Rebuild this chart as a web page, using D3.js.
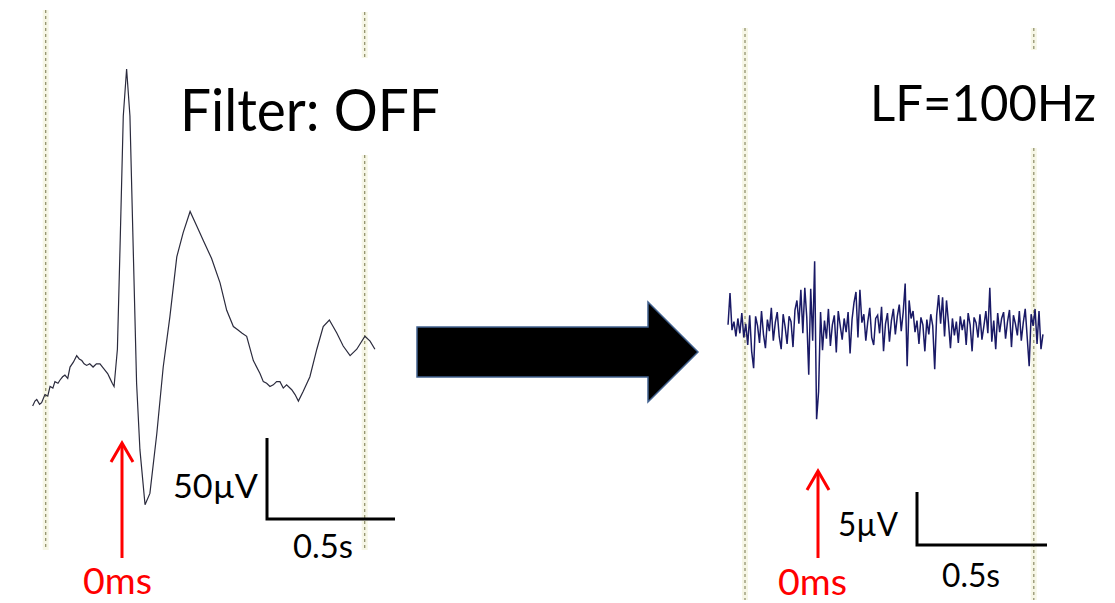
<!DOCTYPE html>
<html>
<head>
<meta charset="utf-8">
<script src="https://d3js.org/d3.v7.min.js"></script>
<style>
  body { margin: 0; background: #fff; }
  text { font-family: Lato, "Open Sans", sans-serif; }
</style>
</head>
<body>
<script>
  const width = 1115, height = 603

  // unfiltered recording: time (ms from stimulus) and amplitude (µV)
  const rawTimeMs = [-349, -340, -333, -322, -314, -301, -290, -281, -270, -262, -250, -242, -232, -223, -212, -203, -190, -177, -167, -157,
    -148, -138, -126, -113, -100, -86, -76, -66, -56, -47, -38, -31, -18, -8, 5, 18, 31, 44, 57, 70,
    90, 109, 136, 161, 187, 214, 239, 266, 292, 318, 350, 383, 409, 435, 452, 468, 487, 513, 539, 552,
    565, 578, 591, 604, 617, 630, 643, 663, 676, 689, 708, 734, 761, 786, 810, 839, 864, 891, 917, 949, 969, 988]
  const rawUv = [-16, -13, -12, -15, -14, -9, -10, -4, -5, -1, -2, 0, 2, 3, 1, 8, 11, 15, 13, 12,
    10, 9, 10, 8, 10, 10, 8, 6, 4, 1, -2, -4, 19, 80, 163, 192, 163, 80, -2, -43,
    -77, -70, -33, 8, 39, 76, 91, 104, 95, 86, 75, 60, 43, 33, 31, 29, 27, 12, 4, -1,
    -2, -4, -3, -1, -1, -5, -3, -6, -9, -13, -7, 2, 19, 33, 37, 29, 21, 15, 19, 27, 24, 19]

  // LF=100Hz filtered recording, uniformly sampled (µV)
  const filtStartMs = -346, filtStepMs = 7.57
  const filtUv = [0.3, 3.3, -0.2, 0.6, -0.8, 0.9, -0.5, 1.4, -0.9, 0.4,
    -1.6, 1.2, -2.2, -3.8, 1.1, 0.2, -1.4, 1.6, -0.6, -1.9,
    0.8, -0.3, 1.9, -1.2, 0.5, 1.5, -0.8, -2.0, 1.3, 0.1,
    -1.5, 1.1, 0.6, -1.8, 1.7, 2.6, 0.4, 3.6, -0.5, 3.8,
    1.0, -4.4, 3.7, -1.2, 6.3, -8.6, -6.0, 1.5, -2.1, 0.7,
    -1.0, 1.8, -1.7, 0.3, 1.2, -2.3, 1.6, 0.2, -1.1, 0.9,
    -0.4, 1.5, -2.4, 0.8, 2.4, 3.4, -0.9, 3.6, 0.5, 1.3,
    -1.2, 0.6, 1.9, -0.9, -1.6, 0.9, 1.2, -0.5, 2.0, -2.2,
    0.4, 1.4, -1.3, 0.7, 1.8, -0.6, 1.1, 2.2, -0.3, 1.5,
    4.2, -3.6, 2.6, 0.9, 1.6, -0.4, 0.7, -1.5, 1.0, 0.3,
    -2.2, 0.8, -0.6, 1.3, 0.2, -3.9, 1.2, 3.1, 0.4, 2.9,
    -0.8, 2.6, 0.5, -1.9, 0.9, -0.7, 0.6, -1.4, 1.1, -0.2,
    0.8, -1.6, 1.4, 0.3, -2.2, 1.0, 0.5, -0.9, 1.3, -1.1,
    0.2, 1.6, -0.5, 3.8, -1.3, 0.7, -2.0, 1.4, -0.4, 0.9,
    1.5, -1.0, 0.6, 1.7, -1.8, 1.2, 0.4, -0.7, 1.6, -1.2,
    0.5, 1.8, -0.9, -3.6, 1.3, 0.2, 1.8, -1.5, 1.6, -2.0, -0.6]

  // marker times (ms) and scale bars
  const markerMs = [-300, 950]
  const filtMarkerMs = [-280, 830]
  const rawBar = {uv: 50, ms: 500, label: ['50µV', '0.5s']}
  const filtBar = {uv: 5, ms: 500, label: ['5µV', '0.5s']}

  const svg = d3.select('body').append('svg')
      .attr('width', width)
      .attr('height', height)

  // scales
  const xL = d3.scaleLinear().domain([0, 500]).range([122, 250])
  const yL = d3.scaleLinear().domain([0, 50]).range([380, 299])
  const xR = d3.scaleLinear().domain([0, 500]).range([818, 948])
  const yR = d3.scaleLinear().domain([0, 5]).range([328, 275])

  function dashed(x, y1, y2) {
    svg.append('line').attr('x1', x).attr('x2', x).attr('y1', y1).attr('y2', y2)
      .style('stroke', '#f6f6e6').style('stroke-width', 6)
    svg.append('line').attr('x1', x).attr('x2', x).attr('y1', y1).attr('y2', y2)
      .style('stroke', '#8c8c66').style('stroke-width', 1.2).style('stroke-dasharray', '3,3')
  }
  dashed(xL(markerMs[0]) + 0.5, 10, 550)
  dashed(xL(markerMs[1]) - 0.5, 12, 58)
  dashed(xL(markerMs[1]) - 0.5, 155, 550)
  dashed(xR(filtMarkerMs[0]) - 0.2, 28, 600)
  dashed(xR(filtMarkerMs[1]), 28, 50)
  dashed(xR(filtMarkerMs[1]), 148, 600)

  // traces
  const rawLine = d3.line().x(d => xL(d[0])).y(d => yL(d[1]))
  svg.append('path')
    .datum(rawTimeMs.map((t, i) => [t, rawUv[i]]))
    .attr('d', rawLine)
    .style('fill', 'none').style('stroke', '#2b2b3d').style('stroke-width', 1.2)

  const filtLine = d3.line().x((d, i) => xR(filtStartMs + i * filtStepMs)).y(d => yR(d))
  svg.append('path')
    .datum(filtUv)
    .attr('d', filtLine)
    .style('fill', 'none').style('stroke', '#1a1a66').style('stroke-width', 1.5)

  // titles
  svg.append('text').attr('x', 180).attr('y', 131).text('Filter: OFF')
    .style('font-size', '58px').attr('textLength', 260).attr('lengthAdjust', 'spacingAndGlyphs')
  svg.append('text').attr('x', 870).attr('y', 121).text('LF=100Hz')
    .style('font-size', '51px').attr('textLength', 226).attr('lengthAdjust', 'spacingAndGlyphs')

  // stimulus arrows
  function stimArrow(x, yTip, yEnd, label, labelX, labelY) {
    svg.append('line').attr('x1', x).attr('x2', x).attr('y1', yTip + 2).attr('y2', yEnd)
      .style('stroke', '#ff0000').style('stroke-width', 3)
    svg.append('path')
      .attr('d', d3.line()([[x - 11, yTip + 19], [x, yTip], [x + 11, yTip + 19]]))
      .style('fill', 'none').style('stroke', '#ff0000').style('stroke-width', 3)
    svg.append('text').attr('x', labelX).attr('y', labelY).text(label)
      .style('fill', '#ff0000').style('font-size', '36px')
      .attr('textLength', 69).attr('lengthAdjust', 'spacingAndGlyphs')
  }
  stimArrow(xL(0), 443, 558, '0ms', 83, 594)
  stimArrow(xR(0), 471, 558, '0ms', 778, 595)

  // scale bars
  function scaleBar(bar, xs, ys, x0, y0, uvLabel, msLabel) {
    const h = ys(0) - ys(bar.uv), w = xs(bar.ms) - xs(0)
    svg.append('path')
      .attr('d', d3.line()([[x0, y0 - h], [x0, y0], [x0 + w, y0]]))
      .style('fill', 'none').style('stroke', '#000').style('stroke-width', 3)
    svg.append('text').attr('x', uvLabel[0]).attr('y', uvLabel[1]).text(bar.label[0])
      .style('font-size', '32px').attr('textLength', uvLabel[2]).attr('lengthAdjust', 'spacingAndGlyphs')
    svg.append('text').attr('x', msLabel[0]).attr('y', msLabel[1]).text(bar.label[1])
      .style('font-size', '32px').attr('textLength', msLabel[2]).attr('lengthAdjust', 'spacingAndGlyphs')
  }
  scaleBar(rawBar, xL, yL, 267, 519, [173, 498, 85], [293, 558, 60])
  scaleBar(filtBar, xR, yR, 917, 545, [838, 536, 60], [942, 587, 58])

  // big arrow between panels
  svg.append('path')
    .attr('d', 'M417,327 L648,327 L648,302 L698,352 L648,402 L648,377 L417,377 Z')
    .style('fill', '#000').style('stroke', '#41618f').style('stroke-width', 1.5)
</script>
</body>
</html>
